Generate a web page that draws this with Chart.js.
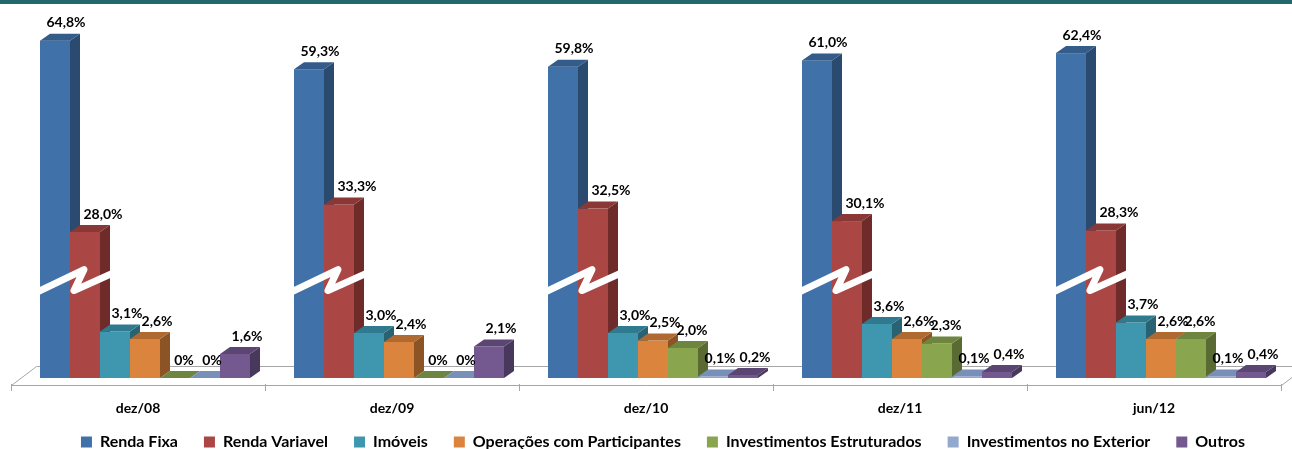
<!DOCTYPE html>
<html><head><meta charset="utf-8">
<script src="https://cdn.jsdelivr.net/npm/chart.js@4"></script>
<style>
html,body{margin:0;padding:0;background:#fff;overflow:hidden;}
#wrap{position:relative;width:1292px;height:460px;}
</style></head>
<body><div id="wrap"><canvas id="c"></canvas></div>
<script>
// ---- data ----
const categories = ['dez/08', 'dez/09', 'dez/10', 'dez/11', 'jun/12'];
const seriesNames = ['Renda Fixa', 'Renda Variavel', 'Imóveis', 'Operações com Participantes',
  'Investimentos Estruturados', 'Investimentos no Exterior', 'Outros'];
const rendaFixa     = [64.8, 59.3, 59.8, 61.0, 62.4];
const rendaVariavel = [28.0, 33.3, 32.5, 30.1, 28.3];
const imoveis       = [3.1, 3.0, 3.0, 3.6, 3.7];
const operacoes     = [2.6, 2.4, 2.5, 2.6, 2.6];
const estruturados  = [0, 0, 2.0, 2.3, 2.6];
const exterior      = [0, 0, 0.1, 0.1, 0.1];
const outros        = [1.6, 2.1, 0.2, 0.4, 0.4];
const seriesValues = [rendaFixa, rendaVariavel, imoveis, operacoes, estruturados, exterior, outros];

// ---- styles ----
const faceColors = [
  {front: '#4071A9', top: '#335C8A', side: '#2A4A70'},
  {front: '#AA4643', top: '#8A3835', side: '#6E2B29'},
  {front: '#3E97AF', top: '#2F7A8E', side: '#286273'},
  {front: '#DB843D', top: '#B06A30', side: '#8C5425'},
  {front: '#89A54E', top: '#6E853F', side: '#596B32'},
  {front: '#92A8CD', top: '#7890B8', side: '#5E7396'},
  {front: '#73598F', top: '#5B4673', side: '#48385C'}
];
const labelNudge = [11, 18, 12, 12, 9, 7, 12];
const FONT = 'Lato, "Open Sans", sans-serif';
const DX = 10, DY = 7;          // 3D depth
const SHIFT3D = 7;              // front faces sit right of the category centre
const BASE_GAP = 30;            // bar base above bottom of plot box (floor depth)
const LEGEND_SHIFT = 10;

// broken value axis: small values stretched, large values compressed
const BREAK_LOW = 4, BREAK_HIGH = 28, BREAK_MARK = 15;
function fwd(v) {
  if (v <= BREAK_LOW) return 15 * v;
  if (v <= BREAK_HIGH) return 60 + (v - BREAK_LOW) * (86 / 24);
  return 146 + (v - BREAK_HIGH) * 5.2;
}
function inv(h) {
  if (h <= 60) return h / 15;
  if (h <= 146) return BREAK_LOW + (h - 60) / (86 / 24);
  return BREAK_HIGH + (h - 146) / 5.2;
}
class BrokenLinear extends Chart.LinearScale {
  getPixelForValue(value) { return this.bottom - BASE_GAP - fwd(value); }
  getValueForPixel(pixel) { return inv(this.bottom - BASE_GAP - pixel); }
}
BrokenLinear.id = 'brokenLinear';
BrokenLinear.defaults = Chart.LinearScale.defaults;
Chart.register(BrokenLinear);

function fmt(v) { return v === 0 ? '0%' : v.toFixed(1).replace('.', ',') + '%'; }

const bars3d = {
  id: 'bars3d',
  afterLayout(chart) {
    if (chart.legend) { chart.legend.left += LEGEND_SHIFT; chart.legend.right += LEGEND_SHIFT; }
  },
  beforeDatasetsDraw(chart) {
    const ctx = chart.ctx;
    const xs = chart.scales.x, ys = chart.scales.y;
    const base = ys.getPixelForValue(0);
    const n = categories.length;
    const step = xs.width / n;
    const L = xs.left - SHIFT3D, R = xs.right - SHIFT3D;
    ctx.save();
    // floor
    ctx.strokeStyle = '#a6a6a6';
    ctx.lineWidth = 1;
    ctx.beginPath();
    ctx.moveTo(L + 0.5, base + 7.5);
    ctx.lineTo(L + 25.5, base - 11.5);
    ctx.lineTo(R + 25.5, base - 11.5);
    ctx.moveTo(L + 0.5, base + 7.5);
    ctx.lineTo(R + 0.5, base + 7.5);
    ctx.lineTo(R + 25.5, base - 11.5);
    for (let k = 0; k <= n; k++) {
      const tx = Math.round(L + k * step) + 0.5;
      ctx.moveTo(tx, base + 6);
      ctx.lineTo(tx, base + 13);
    }
    ctx.stroke();

    // bars
    chart.data.datasets.forEach((ds, di) => {
      const meta = chart.getDatasetMeta(di);
      const col = faceColors[di];
      meta.data.forEach((bar) => {
        const x0 = bar.x - bar.width / 2, x1 = bar.x + bar.width / 2;
        const top = bar.y, b = bar.base;
        if (b - top > 0.3) {
          ctx.fillStyle = col.side;
          ctx.beginPath();
          ctx.moveTo(x1, top); ctx.lineTo(x1 + DX, top - DY);
          ctx.lineTo(x1 + DX, b - DY); ctx.lineTo(x1, b);
          ctx.closePath(); ctx.fill();
          ctx.fillStyle = col.front;
          ctx.fillRect(x0, top, x1 - x0, b - top);
        }
        ctx.fillStyle = col.top;
        ctx.beginPath();
        ctx.moveTo(x0, top); ctx.lineTo(x1, top);
        ctx.lineTo(x1 + DX, top - DY); ctx.lineTo(x0 + DX, top - DY);
        ctx.closePath(); ctx.fill();
      });
    });

    // axis break marks on the two tall series
    const m0 = chart.getDatasetMeta(0);
    const yb = ys.getPixelForValue(BREAK_MARK);
    ctx.strokeStyle = '#ffffff';
    ctx.lineWidth = 7;
    ctx.lineJoin = 'round';
    ctx.lineCap = 'butt';
    m0.data.forEach((bar) => {
      const xl = bar.x - bar.width / 2;
      ctx.beginPath();
      ctx.moveTo(xl - 4, yb + 14);
      ctx.lineTo(xl + 44, yb - 9);
      ctx.lineTo(xl + 34, yb + 12);
      ctx.lineTo(xl + 74, yb - 6);
      ctx.stroke();
    });

    // value labels
    ctx.fillStyle = '#000';
    ctx.font = 'bold 14px ' + FONT;
    ctx.textAlign = 'center';
    ctx.textBaseline = 'middle';
    chart.data.datasets.forEach((ds, di) => {
      const meta = chart.getDatasetMeta(di);
      meta.data.forEach((bar, i) => {
        ctx.fillText(fmt(ds.data[i]), bar.x + labelNudge[di], bar.y - 18);
      });
    });

    // category labels under the floor
    ctx.font = 'bold 14px ' + FONT;
    categories.forEach((c, i) => {
      ctx.fillText(c, xs.getPixelForValue(i) - SHIFT3D, base + 30);
    });
    ctx.restore();
    return false;
  },
  afterDraw(chart) {
    const ctx = chart.ctx;
    ctx.save();
    ctx.fillStyle = '#21686F';
    ctx.fillRect(0, 0, chart.width, 4);
    ctx.restore();
  }
};

new Chart(document.getElementById('c'), {
  type: 'bar',
  data: {
    labels: categories,
    datasets: seriesNames.map((name, i) => ({
      label: name,
      data: seriesValues[i],
      backgroundColor: faceColors[i].front,
      borderWidth: 0
    }))
  },
  options: {
    responsive: true,
    maintainAspectRatio: false,
    animation: false,
    devicePixelRatio: 1,
    layout: {padding: {left: 18, right: 4, top: 0, bottom: 0}},
    datasets: {bar: {categoryPercentage: 0.8268, barPercentage: 1}},
    plugins: {
      legend: {
        position: 'bottom',
        labels: {boxWidth: 11, boxHeight: 11, padding: 26, color: '#000',
          font: {family: FONT, weight: 'bold', size: 16}}
      },
      tooltip: {enabled: false}
    },
    scales: {
      x: {
        grid: {display: false, drawTicks: false},
        border: {display: false},
        ticks: {display: false}
      },
      y: {type: 'brokenLinear', display: false, min: 0, max: 70}
    }
  },
  plugins: [bars3d]
});
</script>
</body></html>
